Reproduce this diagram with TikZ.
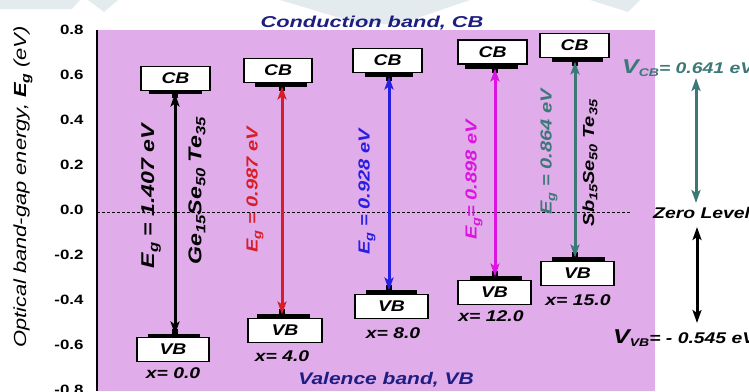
\documentclass[tikz,border=0pt]{standalone}
\usepackage{fontspec}
\setmainfont{Liberation Sans}[FakeStretch=1.25]
\newfontfamily\widefont{Liberation Sans}[FakeStretch=1.38]
\usetikzlibrary{arrows.meta}
\definecolor{bgpurple}{RGB}{224,172,234}
\definecolor{navy}{RGB}{30,30,130}
\definecolor{egred}{RGB}{215,30,40}
\definecolor{egblue}{RGB}{40,30,225}
\definecolor{egmag}{RGB}{220,20,225}
\definecolor{egteal}{RGB}{60,120,118}
\definecolor{wm}{RGB}{228,235,239}
\newcommand\lowsub[1]{\raisebox{-0.4ex}{\scalebox{0.72}{#1}}}
\begin{document}
\begin{tikzpicture}[x=1pt,y=-1pt,
  band/.style={draw=black,fill=white,line width=1.3pt,inner sep=0pt,minimum height=24pt,
    font=\fontsize{15.5}{15.5}\selectfont\bfseries\itshape},
  bline/.style={line width=3.2pt},
  gap/.style={line width=3pt,{Stealth[length=13pt,width=9pt,inset=3pt]}-{Stealth[length=13pt,width=9pt,inset=3pt]}},
  tick/.style={anchor=east,font=\fontsize{13.5}{13.5}\selectfont\bfseries},
  xlab/.style={font=\fontsize{15.5}{15.5}\selectfont\bfseries\itshape},
  rlab/.style={rotate=90,inner sep=0pt,font=\fontsize{16}{16}\selectfont\bfseries\itshape},
  big/.style={rotate=90,inner sep=0pt,font=\fontsize{18.5}{18.5}\selectfont\bfseries\itshape},
  title/.style={text=navy,font=\fontsize{16.8}{16.8}\selectfont\bfseries\itshape},
  side/.style={anchor=west,inner sep=0pt,font=\fontsize{15.5}{15.5}\selectfont\bfseries\itshape},
]
\useasboundingbox (0,0) rectangle (749,391);
% faint watermark shapes
\fill[wm] (0,0) -- (80,0) -- (72,9) -- (0,9) -- cycle;
\fill[wm] (88,0) -- (118,0) -- (104,12) -- cycle;
\fill[wm] (280,0) -- (470,0) -- (400,24) -- (360,24) -- cycle;
\fill[wm] (590,0) -- (640,0) -- (628,12) -- cycle;
% plot area
\fill[bgpurple] (97,30) rectangle (655,391);
\draw[line width=2.8pt] (97,30) -- (97,391);
\draw[dashed,dash pattern=on 3pt off 2pt,line width=0.8pt] (97,212) -- (630,212);
% ticks
\foreach \v/\y in {0.8/30,0.6/75,0.4/120,0.2/165,0.0/210,-0.2/255,-0.4/300,-0.6/345,-0.8/390}
  \node[tick] (t\y) at (87,\y) {\v};
\node[rotate=90,font=\fontsize{17.5}{17.5}\selectfont\itshape] (ylab) at (23,187)
  {Optical band-gap energy, \textbf{E\lowsub{g}} (eV)};
\node[title,font=\widefont\fontsize{15.8}{15.8}\selectfont\bfseries\itshape] (cbt) at (372,23) {Conduction band, CB};
\node[title] (vbt) at (386,380) {Valence band, VB};
% column 1 (x=0.0)
\node[band,minimum width=69pt] (cb1) at (175.5,78.5) {CB};
\node[band,minimum width=72pt] (vb1) at (173,349.5) {VB};
\draw[bline] (149,92) -- (202,92);
\draw[bline] (148,336) -- (200,336);
\coordinate (c1) at (175,93.5); \coordinate (v1) at (175,334.5);
\fill (172,93) rectangle (178,98); \fill (172,329) rectangle (178,335);
\draw[gap,black] (c1) -- (v1);
\node[big] (eg1) at (151,196) {E\lowsub{g} = 1.407 eV};
\node[big] (m1) at (197,191) {Ge\lowsub{15}Se\lowsub{50} Te\lowsub{35}};
\node[xlab] (x1) at (173,373) {x= 0.0};
% column 2 (x=4.0)
\node[band,minimum width=68pt] (cb2) at (278,70.5) {CB};
\node[band,minimum width=74pt] (vb2) at (285,330.5) {VB};
\draw[bline] (255,85) -- (307,85);
\draw[bline] (257,316) -- (310,316);
\coordinate (c2) at (282,86.5); \coordinate (v2) at (282,314.5);
\fill (279,86) rectangle (285,91); \fill (279,309) rectangle (285,315);
\draw[gap,egred] (c2) -- (v2);
\node[rlab,text=egred] (eg2) at (255,190) {E\lowsub{g} = 0.987 eV};
\node[xlab] (x2) at (282,356) {x= 4.0};
% column 3 (x=8.0)
\node[band,minimum width=69pt] (cb3) at (387.5,60.5) {CB};
\node[band,minimum width=73pt] (vb3) at (391.5,306.5) {VB};
\draw[bline] (365,75) -- (413,75);
\draw[bline] (366,292) -- (417,292);
\coordinate (c3) at (389,76.5); \coordinate (v3) at (389,290.5);
\fill (386,76) rectangle (392,81); \fill (386,285) rectangle (392,291);
\draw[gap,egblue] (c3) -- (v3);
\node[rlab,text=egblue] (eg3) at (367,192) {E\lowsub{g} = 0.928 eV};
\node[xlab] (x3) at (393,333) {x= 8.0};
% column 4 (x=12.0)
\node[band,minimum width=69pt] (cb4) at (492.5,52) {CB};
\node[band,minimum width=73pt] (vb4) at (494.5,292.5) {VB};
\draw[bline] (465,67) -- (518,67);
\draw[bline] (470,278) -- (522,278);
\coordinate (c4) at (495,68.5); \coordinate (v4) at (495,276.5);
\fill (492,68) rectangle (498,73); \fill (492,271) rectangle (498,277);
\draw[gap,egmag] (c4) -- (v4);
\node[rlab,text=egmag] (eg4) at (474,180) {E\lowsub{g}= 0.898 eV};
\node[xlab] (x4) at (491,316) {x= 12.0};
% column 5 (x=15.0)
\node[band,minimum width=69pt] (cb5) at (574.5,45.5) {CB};
\node[band,minimum width=73pt] (vb5) at (577.5,273.5) {VB};
\draw[bline] (552,60) -- (603,60);
\draw[bline] (552,259) -- (605,259);
\coordinate (c5) at (575,61.5); \coordinate (v5) at (575,257.5);
\fill (572,61) rectangle (578,66); \fill (572,252) rectangle (578,258);
\draw[gap,egteal] (c5) -- (v5);
\node[rlab,text=egteal] (eg5) at (549,152) {E\lowsub{g} = 0.864 eV};
\node[rlab] (m5) at (590,163) {Sb\lowsub{15}Se\lowsub{50} Te\lowsub{35}};
\node[xlab] (x5) at (578,300) {x= 15.0};
% right side
\node[side,text=egteal] (vcb) at (622,68)
  {{\fontsize{20}{20}\selectfont V}\lowsub{CB}= 0.641 eV};
\node[side] (zero) at (653,213) {Zero Level};
\node[side] (vvb) at (613,338)
  {{\fontsize{20}{20}\selectfont V}\lowsub{VB}= - 0.545 eV};
\coordinate (r1) at (696,78); \coordinate (r2) at (696,203);
\coordinate (r3) at (697,227); \coordinate (r4) at (697,323);
\draw[gap,egteal] (r1) -- (r2);
\draw[gap,black] (r3) -- (r4);
\end{tikzpicture}
\end{document}
